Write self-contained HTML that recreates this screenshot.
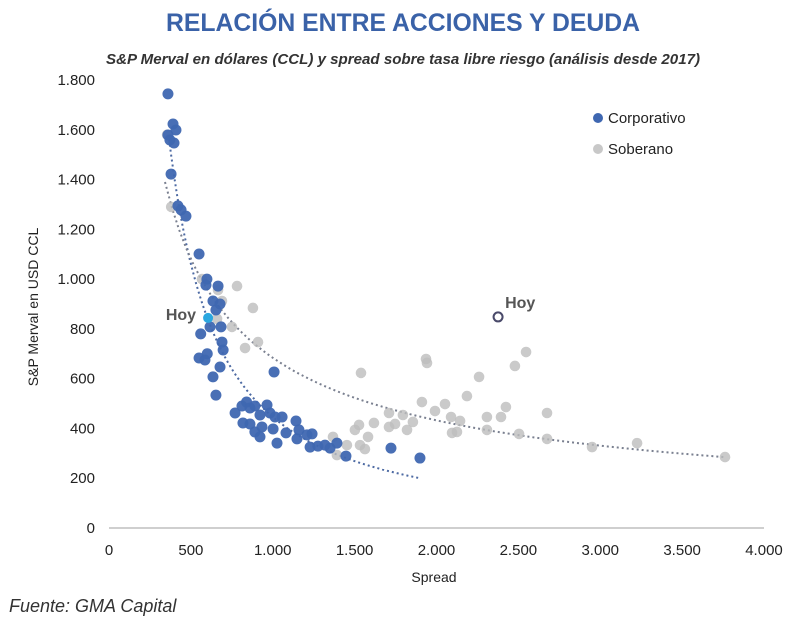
<!DOCTYPE html>
<html><head><meta charset="utf-8"><style>
body{margin:0;background:#fff;width:800px;height:634px;overflow:hidden;font-family:"Liberation Sans",sans-serif}
svg{position:absolute;left:0;top:0}
</style></head><body>
<svg id="chart" width="800" height="634" viewBox="0 0 800 634">
<text x="403" y="31" text-anchor="middle" font-size="25" font-weight="bold" fill="#3a62a8" textLength="474" lengthAdjust="spacingAndGlyphs">RELACIÓN ENTRE ACCIONES Y DEUDA</text>
<text x="403" y="64" text-anchor="middle" font-size="14.5" font-weight="bold" font-style="italic" fill="#333" textLength="594" lengthAdjust="spacingAndGlyphs">S&amp;P Merval en dólares (CCL) y spread sobre tasa libre riesgo (análisis desde 2017)</text>
<g id="yticks"></g><g id="xticks"></g>
<line x1="109" y1="528" x2="764" y2="528" stroke="#bfbfbf" stroke-width="1.5"/>
<text transform="translate(38,307) rotate(-90)" text-anchor="middle" font-size="14" fill="#222">S&amp;P Merval en USD CCL</text>
<text x="434" y="582" text-anchor="middle" font-size="14" fill="#222">Spread</text>
<g id="trend"></g><g id="sob"></g><g id="corp"></g>
<circle id="hoyc" r="5" fill="#2aa7e0"/>
<circle id="hoys" r="4.5" fill="#fff" stroke="#4a4a6a" stroke-width="2"/>
<text id="hoycl" font-size="16" font-weight="bold" fill="#555" text-anchor="end">Hoy</text>
<text id="hoysl" font-size="16" font-weight="bold" fill="#555">Hoy</text>
<g>
<circle cx="598" cy="118" r="5" fill="#3f67b1"/>
<text x="608" y="123" font-size="15" fill="#222">Corporativo</text>
<circle cx="598" cy="149" r="5" fill="#c8c8c8"/>
<text x="608" y="154" font-size="15" fill="#222">Soberano</text>
</g>
<text x="9" y="612" font-size="18" font-style="italic" fill="#333">Fuente: GMA Capital</text>
</svg>
<script>
const yTickVals=[0,200,400,600,800,1000,1200,1400,1600,1800];
const yTickLabels=["0","200","400","600","800","1.000","1.200","1.400","1.600","1.800"];
const xTickVals=[0,500,1000,1500,2000,2500,3000,3500,4000];
const xTickLabels=["0","500","1.000","1.500","2.000","2.500","3.000","3.500","4.000"];
const corpX=[360,391,409,360,372,397,379,421,440,470,550,598,592,666,635,678,653,617,684,690,697,550,586,678,635,653,1008,770,812,840,861,891,922,965,983,1014,1057,818,861,891,934,922,1002,1026,1081,1142,1160,1148,1209,1240,1228,1276,1319,1350,1392,1447,1722,1899,560,600];
const corpY=[1744,1623,1599,1579,1559,1547,1422,1294,1278,1253,1101,1000,976,972,912,900,876,808,808,747,715,683,675,647,607,534,627,462,490,506,482,490,454,494,462,446,446,422,418,386,406,366,398,341,382,430,394,358,374,378,325,329,333,321,341,289,321,281,780,700];
const sobX=[355,380,782,879,831,910,1539,690,666,568,751,660,1936,1942,2260,2186,2479,2547,1911,2052,1991,2089,2144,2308,2394,2424,2675,2308,2504,2675,2950,3225,3762,2095,2125,1710,1795,1856,1820,1747,1710,1618,1527,1502,1582,1368,1533,1453,1563,1392];
const sobY=[1580,1290,972,884,723,747,623,912,956,1000,808,840,679,663,607,530,651,707,506,498,470,446,430,446,446,486,462,394,378,358,325,341,285,382,386,462,454,426,394,418,406,422,414,394,366,366,333,333,317,293];
const hoyCorp=[605,844];
const hoySob=[2376,848];
// power trendlines y = a * x^b : [a at x0 reference value, x0, exponent, xStart, xEnd]
const corpTrend=[1600,360,-1.25,360,1900];
const sobTrend=[1390,342,-0.661,342,3762];
const sx=v=>109+v*0.16375, sy=v=>528-v*0.2489;
const NS="http://www.w3.org/2000/svg";
function mk(tag,parent,attrs){const e=document.createElementNS(NS,tag);for(const k in attrs)e.setAttribute(k,attrs[k]);parent.appendChild(e);return e;}
const yt=document.getElementById('yticks');
yTickVals.forEach((v,i)=>{const t=mk('text',yt,{x:95,y:sy(v)+5,'text-anchor':'end','font-size':15,fill:'#222'});t.textContent=yTickLabels[i];

});
const xt=document.getElementById('xticks');
xTickVals.forEach((v,i)=>{const t=mk('text',xt,{x:sx(v),y:555,'text-anchor':'middle','font-size':15,fill:'#222'});t.textContent=xTickLabels[i];

});
function trend(p,color,name){const [y0,x0,b,lo,hi]=p;const f=x=>y0*Math.pow(x/x0,b);let pts=[];for(let i=0;i<=80;i++){const x=lo+(hi-lo)*i/80;pts.push(sx(x).toFixed(1)+','+sy(f(x)).toFixed(1));}
const l=mk('polyline',document.getElementById('trend'),{points:pts.join(' '),fill:'none',stroke:color,'stroke-width':2,'stroke-dasharray':'2 3'});

}
trend(corpTrend,'#4d6aa3','corporativo-trendline');
trend(sobTrend,'#7a8090','soberano-trendline');
const sg=document.getElementById('sob');
sobX.forEach((x,i)=>{const c=mk('circle',sg,{cx:sx(x),cy:sy(sobY[i]),r:5.3,fill:'#bdbdbd','fill-opacity':0.8});

});
const cg=document.getElementById('corp');
corpX.forEach((x,i)=>{const c=mk('circle',cg,{cx:sx(x),cy:sy(corpY[i]),r:5.5,fill:'#3f67b1','fill-opacity':0.95});

});
const hc=document.getElementById('hoyc');hc.setAttribute('cx',sx(hoyCorp[0]));hc.setAttribute('cy',sy(hoyCorp[1]));
const hs=document.getElementById('hoys');hs.setAttribute('cx',sx(hoySob[0]));hs.setAttribute('cy',sy(hoySob[1]));
const hcl=document.getElementById('hoycl');hcl.setAttribute('x',sx(hoyCorp[0])-12);hcl.setAttribute('y',sy(hoyCorp[1])+2);
const hsl=document.getElementById('hoysl');hsl.setAttribute('x',sx(hoySob[0])+7);hsl.setAttribute('y',sy(hoySob[1])-9);
</script>
</body></html>
